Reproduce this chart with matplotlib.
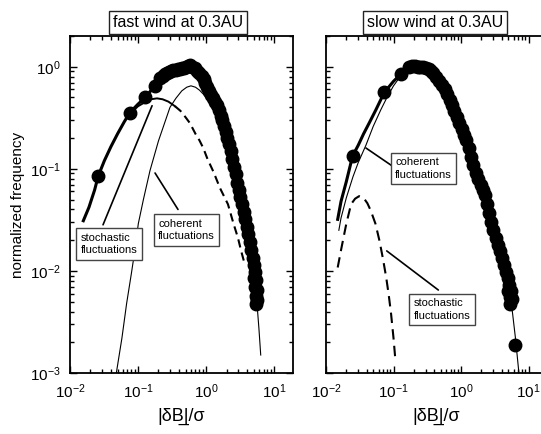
import matplotlib
matplotlib.use('Agg')
import matplotlib.pyplot as plt
from matplotlib.ticker import LogLocator, NullFormatter

plt.rcParams['font.family'] = ['Liberation Sans', 'DejaVu Sans']
plt.rcParams['mathtext.fontset'] = 'custom'
plt.rcParams['mathtext.rm'] = 'Liberation Sans'
plt.rcParams['mathtext.it'] = 'Liberation Sans:italic'
plt.rcParams['mathtext.bf'] = 'Liberation Sans:bold'
plt.rcParams['axes.unicode_minus'] = False

# ---------------- data: fast wind ----------------
fast_data_x = [0.026, 0.076, 0.127, 0.178,
               0.21, 0.23, 0.25, 0.27, 0.29, 0.31, 0.33, 0.36, 0.39, 0.42, 0.45, 0.48, 0.51, 0.54, 0.58,
               0.63, 0.68, 0.74, 0.80, 0.86, 0.92, 0.98, 1.05, 1.12, 1.20, 1.28, 1.37, 1.46, 1.55, 1.64,
               1.73, 1.83, 1.94, 2.05, 2.17, 2.30, 2.43, 2.57, 2.72, 2.88, 3.04, 3.2, 3.38, 3.56, 3.75,
               3.95, 4.15, 4.37, 4.6, 4.85, 5.1, 5.3, 5.1, 5.5, 5.3, 5.6, 5.4, 5.7, 5.5]
fast_data_y = [0.086, 0.356, 0.50, 0.65,
               0.78, 0.82, 0.85, 0.87, 0.89, 0.90, 0.92, 0.93, 0.94, 0.96, 0.97, 0.98, 0.99, 1.01, 1.05,
               1.00, 0.97, 0.91, 0.86, 0.81, 0.76, 0.70, 0.64, 0.58, 0.53, 0.49, 0.45, 0.42, 0.38, 0.33,
               0.30, 0.26, 0.23, 0.20, 0.175, 0.15, 0.125, 0.105, 0.088, 0.073, 0.062, 0.053, 0.045, 0.038, 0.032,
               0.027, 0.023, 0.019, 0.016, 0.0135, 0.0115, 0.0098, 0.0085, 0.0082, 0.0070, 0.0065, 0.0057, 0.0052, 0.0047]

fast_total_x = [0.0157, 0.019, 0.023, 0.026, 0.032, 0.04, 0.05, 0.063, 0.076, 0.1, 0.127, 0.15, 0.178, 0.21, 0.25, 0.3, 0.35]
fast_total_y = [0.031, 0.042, 0.062, 0.085, 0.12, 0.165, 0.22, 0.29, 0.356, 0.43, 0.50, 0.57, 0.65, 0.74, 0.83, 0.90, 0.93]

fast_stoch_solid_x = [0.076, 0.1, 0.127, 0.155, 0.19, 0.23, 0.28, 0.35]
fast_stoch_solid_y = [0.345, 0.41, 0.45, 0.48, 0.49, 0.48, 0.455, 0.41]
fast_stoch_dash_x = [0.35, 0.42, 0.5, 0.58, 0.7, 0.8, 0.91, 1.05, 1.3, 1.6, 2.1, 2.5, 2.95, 3.3, 3.7]
fast_stoch_dash_y = [0.41, 0.37, 0.32, 0.28, 0.22, 0.19, 0.16, 0.125, 0.092, 0.065, 0.045, 0.03, 0.021, 0.0155, 0.0117]

fast_coh_x = [0.048, 0.058, 0.068, 0.08, 0.09, 0.101, 0.12, 0.15, 0.2, 0.25, 0.295, 0.36, 0.44, 0.52, 0.6,
              0.7, 0.8, 0.91, 1.1, 1.3, 1.6, 2.0, 2.5, 3.0, 3.5, 4.2, 4.8, 5.3, 5.67, 6.0, 6.37]
fast_coh_y = [0.001, 0.0022, 0.0048, 0.0095, 0.016, 0.029, 0.05, 0.096, 0.188, 0.29, 0.40, 0.49, 0.58, 0.63, 0.65,
              0.63, 0.59, 0.54, 0.46, 0.38, 0.28, 0.18, 0.10, 0.058, 0.035, 0.018, 0.0105, 0.0065, 0.0044, 0.0027, 0.0015]

# ---------------- data: slow wind ----------------
slow_data_x = [0.0248, 0.073, 0.129,
               0.17, 0.19, 0.21, 0.23, 0.25, 0.27, 0.30, 0.33, 0.36, 0.39, 0.43, 0.47, 0.52, 0.57, 0.62,
               0.68, 0.74, 0.80, 0.87, 0.94, 1.02, 1.10, 1.20, 1.30, 1.40, 1.52, 1.65, 1.80, 1.95, 2.1,
               2.25, 2.4, 2.6, 2.8, 3.0, 3.25, 3.5, 3.75, 4.0, 4.3, 4.6, 4.9, 5.2, 5.0, 5.5, 5.3, 5.6, 5.4, 6.4]
slow_data_y = [0.134, 0.56, 0.85,
               1.00, 1.01, 1.01, 1.00, 1.00, 1.00, 0.98, 0.94, 0.90, 0.86, 0.80, 0.73, 0.66, 0.60, 0.54,
               0.47, 0.42, 0.37, 0.32, 0.28, 0.245, 0.215, 0.19, 0.16, 0.13, 0.108, 0.092, 0.08, 0.07, 0.062,
               0.055, 0.045, 0.037, 0.030, 0.025, 0.021, 0.018, 0.0155, 0.0135, 0.0115, 0.0098, 0.0085, 0.0072,
               0.0063, 0.0063, 0.0055, 0.0053, 0.0047, 0.0019]

slow_total_x = [0.0149, 0.0167, 0.02, 0.0248, 0.03, 0.036, 0.044, 0.055, 0.073, 0.1, 0.129, 0.17]
slow_total_y = [0.032, 0.048, 0.075, 0.134, 0.17, 0.22, 0.284, 0.38, 0.56, 0.72, 0.85, 0.98]

slow_coh_x = [0.0155, 0.0167, 0.02, 0.025, 0.03, 0.039, 0.05, 0.065, 0.08, 0.1, 0.129, 0.17, 0.21, 0.25, 0.3,
              0.39, 0.5, 0.61, 0.74, 0.86, 1.0, 1.21, 1.5, 1.8, 2.2, 2.85, 4.0, 5.3, 6.4, 7.6]
slow_coh_y = [0.025, 0.033, 0.052, 0.083, 0.115, 0.17, 0.26, 0.38, 0.5, 0.65, 0.82, 0.96, 1.0, 1.0, 0.98,
              0.86, 0.69, 0.54, 0.42, 0.32, 0.25, 0.19, 0.11, 0.08, 0.058, 0.029, 0.0135, 0.0064, 0.0022, 0.0007]

slow_stoch_x = [0.0149, 0.017, 0.02, 0.0235, 0.027, 0.031, 0.036, 0.041, 0.046, 0.054, 0.062, 0.07, 0.078,
                0.085, 0.092, 0.1, 0.106]
slow_stoch_y = [0.0108, 0.017, 0.029, 0.045, 0.051, 0.054, 0.052, 0.046, 0.039, 0.029, 0.0197, 0.013, 0.0086,
                0.0058, 0.0038, 0.0022, 0.0014]

W, H = 541, 434
fig = plt.figure(figsize=(W / 100, H / 100), dpi=100)

def frac_box(l, r, t, b):
    return [l / W, (H - b) / H, (r - l) / W, (b - t) / H]

ax1 = fig.add_axes(frac_box(70, 293, 36, 373))
ax2 = fig.add_axes(frac_box(326, 541, 36, 373))

for ax, xmax in ((ax1, 19.0), (ax2, 15.3)):
    ax.set_xscale('log')
    ax.set_yscale('log')
    ax.set_xlim(0.01, xmax)
    ax.set_ylim(1e-3, 2.0)
    ax.xaxis.set_major_locator(LogLocator(base=10, numticks=10))
    ax.xaxis.set_minor_locator(LogLocator(base=10, subs=range(2, 10), numticks=20))
    ax.yaxis.set_major_locator(LogLocator(base=10, numticks=10))
    ax.yaxis.set_minor_locator(LogLocator(base=10, subs=range(2, 10), numticks=20))
    ax.xaxis.set_minor_formatter(NullFormatter())
    ax.yaxis.set_minor_formatter(NullFormatter())
    ax.tick_params(which='both', direction='in', top=True, right=True, width=1.0,
                   labelsize=11, pad=7)
    ax.tick_params(which='major', length=5)
    ax.tick_params(which='minor', length=3)
    for s in ax.spines.values():
        s.set_linewidth(1.3)

ax2.spines['right'].set_visible(False)
ax2.tick_params(which='both', right=False, labelleft=False)

# ---- fast panel ----
ax1.plot(fast_coh_x, fast_coh_y, color='black', lw=0.8, zorder=2)
ax1.plot(fast_stoch_solid_x, fast_stoch_solid_y, color='black', lw=1.4, zorder=2)
ax1.plot(fast_stoch_dash_x, fast_stoch_dash_y, color='black', lw=1.5, ls=(0, (4, 2.5)), zorder=2)
ax1.plot(fast_total_x, fast_total_y, color='black', lw=2.2, zorder=3)
ax1.plot(fast_data_x, fast_data_y, 'o', color='black', ms=9, mec='black', zorder=4)

# ---- slow panel ----
ax2.plot(slow_coh_x, slow_coh_y, color='black', lw=0.8, zorder=2)
ax2.plot(slow_stoch_x, slow_stoch_y, color='black', lw=1.5, ls=(0, (5, 3)), zorder=2)
ax2.plot(slow_total_x, slow_total_y, color='black', lw=2.2, zorder=3)
ax2.plot(slow_data_x, slow_data_y, 'o', color='black', ms=9, mec='black', zorder=4)

box = dict(boxstyle='square,pad=0.4', fc='white', ec='#444444', lw=1.0)

def label(ax, txt, tx, ty, p_from, p_to):
    ax.annotate('', xy=p_to, xytext=p_from, xycoords='data', textcoords='data',
                arrowprops=dict(arrowstyle='-', color='black', lw=1.2, shrinkA=0, shrinkB=0), zorder=5)
    ax.text(tx, ty, txt, transform=ax.transAxes, ha='left', va='center', fontsize=8,
            linespacing=1.3, bbox=box, zorder=6)

label(ax1, 'stochastic\nfluctuations', 0.049, 0.383, (0.0306, 0.0283), (0.161, 0.415))
label(ax1, 'coherent\nfluctuations', 0.395, 0.424, (0.387, 0.040), (0.178, 0.091))
label(ax2, 'coherent\nfluctuations', 0.321, 0.607, (0.095, 0.107), (0.039, 0.16))
label(ax2, 'stochastic\nfluctuations', 0.409, 0.188, (0.461, 0.0065), (0.0794, 0.0157))

# titles
tbox = dict(boxstyle='square,pad=0.25', fc='white', ec='#222222', lw=1.0)
fig.text(178 / W, (H - 22.5) / H, 'fast wind at 0.3AU', ha='center', va='center', fontsize=11.5, bbox=tbox)
fig.text(435 / W, (H - 22.5) / H, 'slow wind at 0.3AU', ha='center', va='center', fontsize=11.5, bbox=tbox)

fig.text(18 / W, (H - 205) / H, 'normalized frequency', rotation=90, ha='center', va='center', fontsize=11)

xl = '|\u03b4B\u0332|/\u03c3'
fig.text(181 / W, (H - 416) / H, xl, ha='center', va='center', fontsize=13)
fig.text(436 / W, (H - 416) / H, xl, ha='center', va='center', fontsize=13)

fig.savefig('out.png', dpi=100)
